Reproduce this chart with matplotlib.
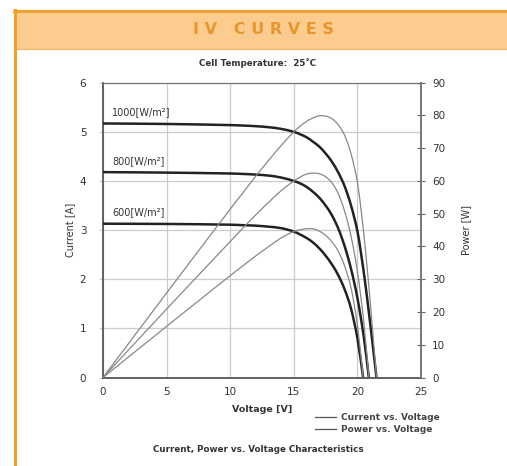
import matplotlib
matplotlib.use("Agg")
import numpy as np
import matplotlib.pyplot as plt
from matplotlib.patches import Rectangle, PathPatch
from matplotlib.path import Path
from matplotlib.lines import Line2D

# ---- data ----
irradiance_labels = ["1000[W/m²]", "800[W/m²]", "600[W/m²]"]

v_1000 = [0, 5, 10, 11, 12, 13, 14, 15, 15.5, 16, 16.5, 17, 17.5, 18, 18.5, 19, 19.5, 20, 20.3, 20.6, 20.9, 21.2, 21.5]
i_1000 = [5.17, 5.16, 5.137, 5.128, 5.115, 5.095, 5.06, 5.00, 4.95, 4.89, 4.80, 4.70, 4.56, 4.39, 4.17, 3.89, 3.50, 2.98, 2.50, 1.95, 1.33, 0.67, 0.0]
p_1000 = [0, 25.8, 51.4, 56.4, 61.4, 66.2, 70.8, 75.0, 76.7, 78.2, 79.2, 79.9, 79.8, 79.0, 77.1, 73.9, 68.3, 59.6, 50.8, 40.2, 27.8, 14.2, 0.0]

v_800 = [0, 5, 10, 11, 12, 13, 14, 15, 15.5, 16, 16.5, 17, 17.5, 18, 18.5, 19, 19.5, 20, 20.5, 20.9]
i_800 = [4.18, 4.17, 4.152, 4.143, 4.13, 4.11, 4.07, 4.00, 3.95, 3.88, 3.78, 3.66, 3.50, 3.30, 3.03, 2.67, 2.21, 1.62, 0.83, 0.0]
p_800 = [0, 20.9, 41.5, 45.6, 49.6, 53.4, 57.0, 60.0, 61.2, 62.1, 62.4, 62.2, 61.3, 59.4, 56.1, 50.7, 43.1, 32.4, 17.0, 0.0]

v_600 = [0, 5, 10, 11, 12, 13, 14, 15, 15.5, 16, 16.5, 17, 17.5, 18, 18.5, 19, 19.5, 20, 20.45]
i_600 = [3.13, 3.125, 3.11, 3.10, 3.09, 3.07, 3.04, 2.97, 2.91, 2.84, 2.75, 2.63, 2.48, 2.30, 2.08, 1.79, 1.40, 0.80, 0.0]
p_600 = [0, 15.6, 31.1, 34.1, 37.1, 39.9, 42.6, 44.6, 45.1, 45.4, 45.4, 44.7, 43.4, 41.4, 38.5, 34.0, 27.3, 16.0, 0.0]

x_ticks = [0, 5, 10, 15, 20, 25]
y_ticks = [0, 1, 2, 3, 4, 5, 6]
p_ticks = [0, 10, 20, 30, 40, 50, 60, 70, 80, 90]

volts = [v_1000, v_800, v_600]
currents = [i_1000, i_800, i_600]
powers = [p_1000, p_800, p_600]


def smooth_path(x, y):
    """Bezier path through the given points (Catmull-Rom style tangents)."""
    x = np.asarray(x, float)
    y = np.asarray(y, float)
    n = len(x)
    verts = [(x[0], y[0])]
    codes = [Path.MOVETO]
    for k in range(n - 1):
        k0 = max(k - 1, 0)
        k3 = min(k + 2, n - 1)
        h = x[k + 1] - x[k]
        m1 = (y[k + 1] - y[k0]) / (x[k + 1] - x[k0])
        m2 = (y[k3] - y[k]) / (x[k3] - x[k])
        c1 = (x[k] + h / 3, y[k] + m1 * h / 3)
        c2 = (x[k + 1] - h / 3, y[k + 1] - m2 * h / 3)
        verts += [c1, c2, (x[k + 1], y[k + 1])]
        codes += [Path.CURVE4] * 3
    return Path(verts, codes)


W, H = 507, 466
fig = plt.figure(figsize=(W / 100, H / 100), dpi=100)
fig.patch.set_facecolor("white")

orange_fill = "#FCCB8E"
orange_line = "#F29E2A"
fig.patches.append(Rectangle((14 / W, 1 - 49 / H), 1 - 14 / W, 39 / H, transform=fig.transFigure,
                             facecolor=orange_fill, edgecolor="none", zorder=0))
fig.lines.append(Line2D([14 / W, 1], [1 - 10.5 / H, 1 - 10.5 / H], transform=fig.transFigure,
                        color=orange_line, lw=2))
fig.lines.append(Line2D([14 / W, 1], [1 - 49 / H, 1 - 49 / H], transform=fig.transFigure,
                        color="#F5B560", lw=0.8))
fig.lines.append(Line2D([14.5 / W, 14.5 / W], [0, 1 - 10 / H], transform=fig.transFigure,
                        color=orange_line, lw=2.2))

fig.text(263 / W, 1 - 30 / H, "I V   C U R V E S", ha="center", va="center",
         fontsize=11.5, fontweight="bold", color="#E8962E", family="DejaVu Sans")
fig.text(258 / W, 1 - 63 / H, "Cell Temperature:  25˚C", ha="center", va="center",
         fontsize=6.3, fontweight="bold", color="#333333")

ax = fig.add_axes([103 / W, 1 - 377.5 / H, (421 - 103) / W, (377.5 - 82.7) / H])
ax.set_xlim(0, 25)
ax.set_ylim(0, 6)
ax.set_xticks(x_ticks)
ax.set_yticks(y_ticks)
ax.grid(True, color="#cccccc", lw=0.9)
ax.set_axisbelow(True)
for s in ["left", "bottom"]:
    ax.spines[s].set_color("#555555")
    ax.spines[s].set_linewidth(1.3)
ax.spines["top"].set_color("#777777")
ax.spines["top"].set_linewidth(0.9)
ax.spines["right"].set_color("#777777")
ax.spines["right"].set_linewidth(1.2)
ax.tick_params(axis="x", length=0, pad=7, labelsize=7.5, labelcolor="#333333")
ax.tick_params(axis="y", length=3, color="#cccccc", pad=9, labelsize=7.5, labelcolor="#333333")

for v, i, lab in zip(volts, currents, irradiance_labels):
    ax.add_patch(PathPatch(smooth_path(v, i), facecolor="none", edgecolor="#222222",
                           lw=1.8, zorder=3))
    ax.text(0.7, i[0] + 0.13, lab, fontsize=7, color="#333333", va="bottom", ha="left")

ax2 = ax.twinx()
ax2.set_ylim(0, 90)
ax2.set_yticks(p_ticks)
ax2.tick_params(axis="y", direction="inout", length=6, color="#666666", pad=5,
                labelsize=7.5, labelcolor="#333333")
for s in ["left", "bottom", "top"]:
    ax2.spines[s].set_visible(False)
ax2.spines["right"].set_color("#777777")
ax2.spines["right"].set_linewidth(1.2)
for v, p in zip(volts, powers):
    ax2.add_patch(PathPatch(smooth_path(v, p), facecolor="none", edgecolor="#888888",
                            lw=0.9, zorder=3))

fig.text(70 / W, 1 - 230 / H, "Current [A]", rotation=90, ha="center", va="center",
         fontsize=7, color="#333333", family=["Liberation Sans Narrow", "DejaVu Sans"])
fig.text(466 / W, 1 - 230 / H, "Power [W]", rotation=90, ha="center", va="center",
         fontsize=7, color="#333333", family=["Liberation Sans Narrow", "DejaVu Sans"])
fig.text(262 / W, 1 - 410 / H, "Voltage [V]", ha="center", va="center",
         fontsize=6.8, fontweight="bold", color="#333333")

for yy, txt in [(417, "Current vs. Voltage"), (429, "Power vs. Voltage")]:
    fig.lines.append(Line2D([315 / W, 336 / W], [1 - yy / H, 1 - yy / H], transform=fig.transFigure,
                            color="#555555", lw=0.9))
    fig.text(341 / W, 1 - yy / H, txt, ha="left", va="center", fontsize=6.5,
             fontweight="bold", color="#444444")

fig.text(258 / W, 1 - 449 / H, "Current, Power vs. Voltage Characteristics", ha="center",
         va="center", fontsize=6.3, fontweight="bold", color="#333333")

fig.savefig("out.png", dpi=100)
